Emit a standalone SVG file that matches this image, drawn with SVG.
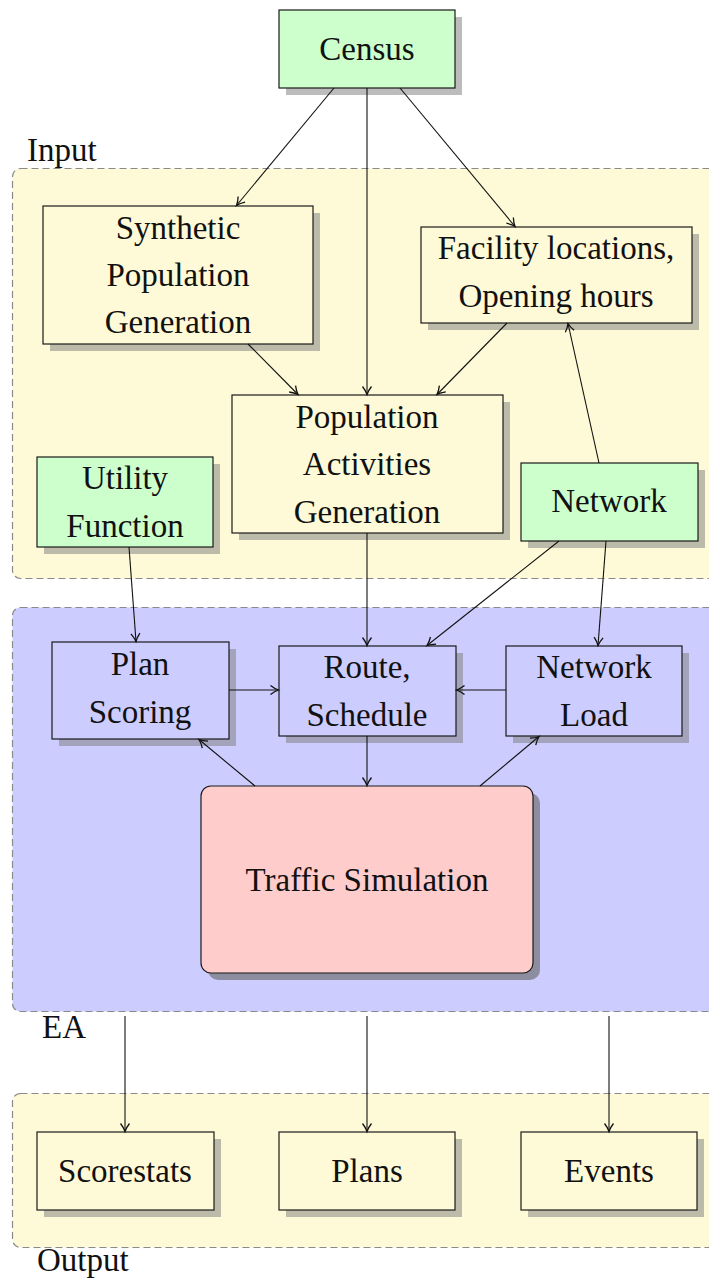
<svg xmlns="http://www.w3.org/2000/svg" width="709" height="1279" viewBox="0 0 709 1279">
  <style>
    .cont { stroke: #8a8a8a; stroke-width: 1.2; stroke-dasharray: 7 4; }
    .yel { fill: #fefad7; }
    .blu { fill: #ccccff; }
    .grn { fill: #ccffcc; }
    .red { fill: #ffcccc; }
    .box { stroke: #1a1a1a; stroke-width: 1.2; }
    .shd { fill: #7a7a7a; fill-opacity: 0.5; }
    .shd2 { fill: #666; fill-opacity: 0.62; }
    text { font-family: "Liberation Serif", "Times New Roman", serif; font-size: 33px; fill: #111; }
    .c { text-anchor: middle; }
    .edge { stroke: #111; stroke-width: 1.1; fill: none; marker-end: url(#arr); }
  </style>
  <defs>
    <marker id="arr" markerUnits="userSpaceOnUse" viewBox="-10 -6 12 12" refX="0" refY="0" markerWidth="12" markerHeight="12" orient="auto">
      <path d="M -8 -4.5 C -4.5 -1.8 -1.5 -0.5 0 0 C -1.5 0.5 -4.5 1.8 -8 4.5" stroke="#111" stroke-width="1.3" fill="none"/>
    </marker>
  </defs>

  <!-- containers -->
  <g id="input-area">
    <rect class="cont yel" x="12.5" y="168.5" width="720" height="410" rx="8"/>
    <text x="27" y="161">Input</text>
  </g>
  <g id="ea-area">
    <rect class="cont blu" x="12.5" y="607.5" width="720" height="404" rx="8"/>
    <text x="42" y="1038">EA</text>
  </g>
  <g id="output-area">
    <rect class="cont yel" x="12.5" y="1093.5" width="720" height="154" rx="8"/>
    <text x="37" y="1271">Output</text>
  </g>

  <!-- nodes -->
  <g id="census">
    <rect class="shd" x="286" y="17" width="176" height="78"/>
    <rect class="box grn" x="279" y="10" width="176" height="78"/>
    <text class="c" x="367" y="60">Census</text>
  </g>
  <g id="synthetic">
    <rect class="shd" x="50" y="213" width="270" height="138"/>
    <rect class="box yel" x="43" y="206" width="270" height="138"/>
    <text class="c" x="178" y="239">Synthetic</text>
    <text class="c" x="178" y="286">Population</text>
    <text class="c" x="178" y="333">Generation</text>
  </g>
  <g id="facility">
    <rect class="shd" x="428" y="234" width="271" height="96"/>
    <rect class="box yel" x="421" y="227" width="271" height="96"/>
    <text class="c" x="556" y="259">Facility locations,</text>
    <text class="c" x="556" y="307">Opening hours</text>
  </g>
  <g id="popact">
    <rect class="shd" x="239" y="402" width="271" height="138"/>
    <rect class="box yel" x="232" y="395" width="271" height="138"/>
    <text class="c" x="367" y="428">Population</text>
    <text class="c" x="367" y="475">Activities</text>
    <text class="c" x="367" y="523">Generation</text>
  </g>
  <g id="utility">
    <rect class="shd" x="44" y="464" width="176" height="90"/>
    <rect class="box grn" x="37" y="457" width="176" height="90"/>
    <text class="c" x="125" y="489">Utility</text>
    <text class="c" x="125" y="537">Function</text>
  </g>
  <g id="network">
    <rect class="shd" x="528" y="470" width="177" height="78"/>
    <rect class="box grn" x="521" y="463" width="177" height="78"/>
    <text class="c" x="609" y="512">Network</text>
  </g>
  <g id="planscoring">
    <rect class="shd" x="59" y="649" width="177" height="97"/>
    <rect class="box blu" x="52" y="642" width="177" height="97"/>
    <text class="c" x="140" y="675">Plan</text>
    <text class="c" x="140" y="723">Scoring</text>
  </g>
  <g id="route">
    <rect class="shd" x="286" y="653" width="177" height="90"/>
    <rect class="box blu" x="279" y="646" width="177" height="90"/>
    <text class="c" x="367" y="678">Route,</text>
    <text class="c" x="367" y="726">Schedule</text>
  </g>
  <g id="networkload">
    <rect class="shd" x="513" y="653" width="176" height="90"/>
    <rect class="box blu" x="506" y="646" width="176" height="90"/>
    <text class="c" x="594" y="678">Network</text>
    <text class="c" x="594" y="726">Load</text>
  </g>
  <g id="traffic">
    <rect class="shd2" x="208" y="793" width="332" height="187" rx="10"/>
    <rect class="box red" x="201" y="786" width="332" height="187" rx="10"/>
    <text class="c" x="367" y="891">Traffic Simulation</text>
  </g>
  <g id="scorestats">
    <rect class="shd" x="44" y="1139" width="177" height="78"/>
    <rect class="box yel" x="37" y="1132" width="177" height="78"/>
    <text class="c" x="125" y="1182">Scorestats</text>
  </g>
  <g id="plans">
    <rect class="shd" x="286" y="1139" width="176" height="78"/>
    <rect class="box yel" x="279" y="1132" width="176" height="78"/>
    <text class="c" x="367" y="1182">Plans</text>
  </g>
  <g id="events">
    <rect class="shd" x="528" y="1139" width="176" height="78"/>
    <rect class="box yel" x="521" y="1132" width="176" height="78"/>
    <text class="c" x="609" y="1182">Events</text>
  </g>

  <!-- connectors -->
  <g id="connectors">
    <line class="edge" x1="334" y1="88" x2="236.5" y2="205.5"/>
    <line class="edge" x1="367" y1="88" x2="367" y2="394.5"/>
    <line class="edge" x1="400" y1="88" x2="515" y2="226.5"/>
    <line class="edge" x1="248" y1="344" x2="298" y2="394.5"/>
    <line class="edge" x1="507" y1="323" x2="437" y2="394.5"/>
    <line class="edge" x1="599" y1="463" x2="568" y2="323.5"/>
    <line class="edge" x1="367" y1="533" x2="367" y2="645.5"/>
    <line class="edge" x1="129" y1="547" x2="136" y2="641.5"/>
    <line class="edge" x1="559" y1="541" x2="427" y2="645.5"/>
    <line class="edge" x1="606" y1="541" x2="598" y2="645.5"/>
    <line class="edge" x1="229" y1="690" x2="278.5" y2="690"/>
    <line class="edge" x1="506" y1="690" x2="456.5" y2="690"/>
    <line class="edge" x1="367" y1="736" x2="367" y2="785.5"/>
    <line class="edge" x1="255" y1="786" x2="199" y2="739.5"/>
    <line class="edge" x1="480" y1="786" x2="539" y2="736.5"/>
    <line class="edge" x1="125" y1="1016" x2="125" y2="1131.5"/>
    <line class="edge" x1="367" y1="1016" x2="367" y2="1131.5"/>
    <line class="edge" x1="609" y1="1016" x2="609" y2="1131.5"/>
  </g>
</svg>
